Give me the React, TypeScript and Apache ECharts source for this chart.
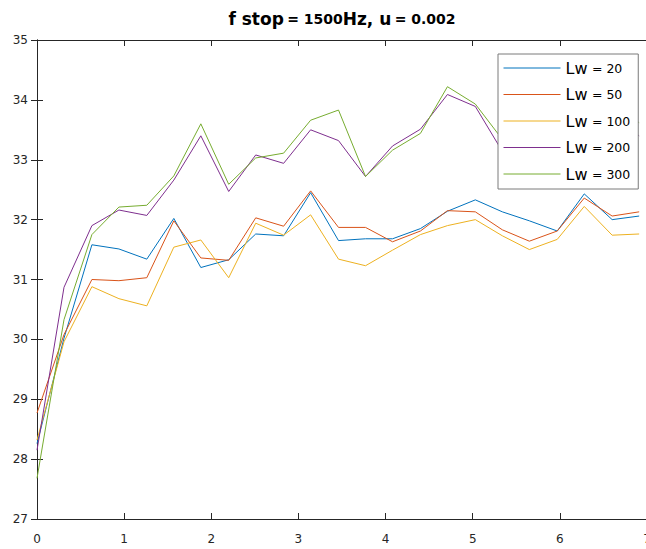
import React, { useEffect, useRef } from "react";
import * as echarts from "echarts";

const xValues = [0, 0.31, 0.63, 0.94, 1.26, 1.57, 1.88, 2.2, 2.51, 2.83, 3.14, 3.46, 3.77, 4.08, 4.4, 4.71, 5.03, 5.34, 5.65, 5.97, 6.28, 6.6, 6.91];

const lw20 = [28.26, 30.02, 31.58, 31.51, 31.34, 32.02, 31.2, 31.33, 31.76, 31.73, 32.45, 31.65, 31.68, 31.68, 31.85, 32.14, 32.33, 32.13, 31.98, 31.81, 32.43, 32.0, 32.06];
const lw50 = [28.77, 30.08, 31.0, 30.98, 31.03, 31.98, 31.36, 31.32, 32.03, 31.89, 32.48, 31.87, 31.87, 31.63, 31.81, 32.15, 32.13, 31.83, 31.64, 31.81, 32.36, 32.06, 32.13];
const lw100 = [28.32, 29.96, 30.88, 30.68, 30.56, 31.54, 31.66, 31.03, 31.94, 31.74, 32.08, 31.34, 31.23, 31.49, 31.75, 31.9, 32.0, 31.73, 31.5, 31.67, 32.22, 31.74, 31.76];
const lw200 = [28.15, 30.87, 31.9, 32.16, 32.07, 32.66, 33.4, 32.47, 33.08, 32.94, 33.5, 33.32, 32.72, 33.23, 33.51, 34.09, 33.89, 33.14, 32.95, 33.15, 33.85, 33.7, 33.4];
const lw300 = [27.68, 30.33, 31.75, 32.21, 32.24, 32.73, 33.6, 32.59, 33.03, 33.11, 33.66, 33.83, 32.72, 33.16, 33.44, 34.22, 33.93, 33.34, 33.1, 33.3, 34.0, 33.88, 33.62];

const seriesNames = ["Lw = 20", "Lw = 50", "Lw = 100", "Lw = 200", "Lw = 300"];
const seriesData = [lw20, lw50, lw100, lw200, lw300];
const colors = ["#0072BD", "#D95319", "#EDB120", "#7E2F8E", "#77AC30"];

const xTicks = { min: 0, max: 7, interval: 1 };
const yTicks = { min: 27, max: 35, interval: 1 };

const FONT = "DejaVu Sans";
const AX = "#262626";

export default function App() {
  const ref = useRef<HTMLDivElement>(null);
  useEffect(() => {
    document.body.style.margin = "0";
    if (!ref.current) return;
    const chart = echarts.init(ref.current, undefined, { renderer: "svg" });
    const tickCommon = { show: true, inside: true, length: 6, lineStyle: { color: AX, width: 1 } };
    const lineCommon = { show: true, lineStyle: { color: AX, width: 1 } };
    chart.setOption({
      animation: false,
      backgroundColor: "#ffffff",
      grid: { left: 37, top: 40, right: -1, bottom: 30, outerBoundsMode: "none", containLabel: false },
      graphic: [
        {
          type: "text",
          x: 342,
          y: 19,
          style: {
            text: "{a|f stop} {b|= 1500}{a|Hz, u} {b|= 0.002}",
            rich: {
              a: { fontSize: 17, fontWeight: "bold", fontFamily: FONT, fill: "#000" },
              b: { fontSize: 14, fontWeight: "bold", fontFamily: FONT, fill: "#000" },
            },
            align: "center",
            verticalAlign: "middle",
            textAlign: "center",
            textVerticalAlign: "middle",
            fill: "#000",
          },
        },
      ],
      legend: {
        data: seriesNames,
        left: 498,
        top: 54,
        orient: "vertical",
        itemWidth: 57,
        itemHeight: 13,
        itemGap: 10.5,
        padding: [6, 8, 7, 5],
        backgroundColor: "#ffffff",
        borderColor: "#7a7a7a",
        borderWidth: 1,
        borderRadius: 0,
        itemStyle: { opacity: 0 },
        lineStyle: { width: 1 },
        formatter: (name: string) => {
          const parts = name.split(" = ");
          return `{l|${parts[0]}} {n|= ${parts[1]}}`;
        },
        textStyle: {
          fontFamily: FONT,
          fontSize: 14,
          color: "#000",
          rich: {
            l: { fontFamily: FONT, fontSize: 16, color: "#000" },
            n: { fontFamily: FONT, fontSize: 12.5, color: "#000" },
          },
        },
        z: 10,
      },
      xAxis: [
        {
          type: "value",
          ...xTicks,
          position: "bottom",
          axisLine: lineCommon,
          axisTick: tickCommon,
          splitLine: { show: false },
          axisLabel: { fontFamily: FONT, fontSize: 12, color: AX, margin: 14 },
        },
        {
          type: "value",
          ...xTicks,
          position: "top",
          axisLine: lineCommon,
          axisTick: tickCommon,
          splitLine: { show: false },
          axisLabel: { show: false },
        },
      ],
      yAxis: [
        {
          type: "value",
          ...yTicks,
          position: "left",
          axisLine: lineCommon,
          axisTick: tickCommon,
          splitLine: { show: false },
          axisLabel: { fontFamily: FONT, fontSize: 12, color: AX, margin: 9 },
        },
        {
          type: "value",
          ...yTicks,
          position: "right",
          axisLine: lineCommon,
          axisTick: tickCommon,
          splitLine: { show: false },
          axisLabel: { show: false },
        },
      ],
      series: seriesData.map((d, i) => ({
        name: seriesNames[i],
        type: "line",
        xAxisIndex: 0,
        yAxisIndex: 0,
        data: d.map((v, j) => [xValues[j], v]),
        symbol: "none",
        color: colors[i],
        lineStyle: { color: colors[i], width: 1 },
        z: 2,
      })),
    });
    return () => chart.dispose();
  }, []);
  return <div ref={ref} style={{ width: 646, height: 549 }} />;
}
